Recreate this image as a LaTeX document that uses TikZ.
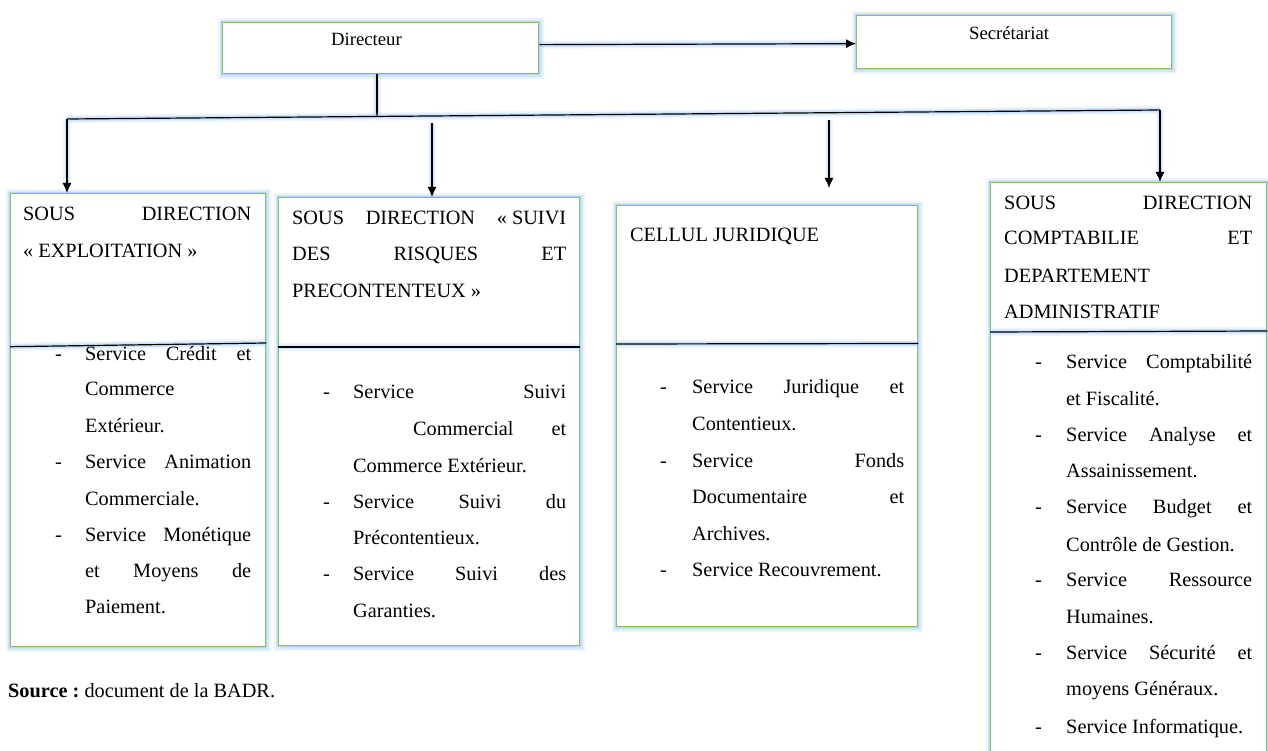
\documentclass[tikz,border=0pt]{standalone}
\usepackage{fontspec}
\setmainfont{Liberation Serif}
\usetikzlibrary{arrows.meta}
\definecolor{boxgreen}{RGB}{140,192,92}
\definecolor{glowblue}{RGB}{150,198,248}
% a line of text stretched to a given width (justified)
\newcommand\jus[2]{\makebox[#1][s]{#2}}
\frenchspacing

\begin{document}
\begin{tikzpicture}[x=1pt,y=-1pt,
  orgbox/.style={draw=boxgreen, line width=1.3pt, fill=white, inner sep=0pt,
    anchor=north west,
    preaction={draw=glowblue, line width=10pt, opacity=0.18},
    preaction={draw=glowblue, line width=6pt, opacity=0.3},
    preaction={draw=glowblue, line width=3.5pt, opacity=0.45}},
  txt/.style={inner sep=0pt, anchor=base west, font=\fontsize{20.3pt}{24pt}\selectfont},
  small/.style={inner sep=0pt, anchor=base west, font=\fontsize{18.7pt}{22pt}\selectfont},
  conn/.style={draw=black, line width=1.2pt,
    preaction={draw=glowblue, line width=8pt, opacity=0.18},
    preaction={draw=glowblue, line width=4.5pt, opacity=0.35}},
  arr/.style={conn, -{Latex[length=10pt,width=9pt]}},
]
\useasboundingbox (0,0) rectangle (1268,751);
\clip (0,0) rectangle (1268,751);
\fill[white] (0,0) rectangle (1268,751);

% boxes
\node[orgbox, minimum width=316pt, minimum height=51pt]  (dir) at (222,22) {};
\node[orgbox, minimum width=315pt, minimum height=53pt]  (sec) at (856,15) {};
\node[orgbox, minimum width=255pt, minimum height=453pt] (b1)  at (10,193) {};
\node[orgbox, minimum width=301pt, minimum height=448pt] (b2)  at (278,197) {};
\node[orgbox, minimum width=301pt, minimum height=421pt] (b3)  at (616,205) {};
\node[orgbox, minimum width=276pt, minimum height=620pt] (b4)  at (990,182) {};

% dividers between heading and services
\draw[conn] ([yshift=-153.7pt]b1.north west) -- ([yshift=-150pt]b1.north east);
\draw[conn] ([yshift=-150pt]b2.north west) -- ([yshift=-150pt]b2.north east);
\draw[conn] ([yshift=-139pt]b3.north west) -- ([yshift=-138.5pt]b3.north east);
\draw[conn] ([yshift=-150pt]b4.north west) -- ([yshift=-149pt]b4.north east);

% connectors
\coordinate (busL) at (67,119);
\coordinate (busR) at (1160,110);
\coordinate (busJ) at (377,116.4);
\coordinate (t2) at (432,123);
\coordinate (t3) at (829,120);
\coordinate (e3) at (829,188);
\draw[conn] (dir.south -| busJ) -- (busJ);
\draw[conn] (busL) -- (busR);
\draw[arr] (busL) -- (busL |- b1.north);
\draw[arr] (t2) -- (t2 |- b2.north);
\draw[arr] (t3) -- (e3);
\draw[arr] (busR) -- (busR |- b4.north);
\draw[arr] ([yshift=3.5pt]dir.east) -- ([yshift=-1.5pt]sec.west);

% top labels
\node[small] (dirT) at (331,46) {Directeur};
\node[small] (secT) at (969,40) {Secrétariat};

% box 1
\node[txt] (b1h1) at (23,221) {\jus{228pt}{SOUS DIRECTION}};
\node[txt] (b1h2) at (23,258) {« EXPLOITATION »};
\node[txt] (b1d1) at (55,360) {-};
\node[txt] (b1l1) at (85,360) {\jus{166pt}{Service Crédit et}};
\node[txt] (b1l2) at (85,395) {Commerce};
\node[txt] (b1l3) at (85,432) {Extérieur.};
\node[txt] (b1d2) at (55,468) {-};
\node[txt] (b1l4) at (85,468) {\jus{166pt}{Service Animation}};
\node[txt] (b1l5) at (85,505) {Commerciale.};
\node[txt] (b1d3) at (55,541) {-};
\node[txt] (b1l6) at (85,541) {\jus{166pt}{Service Monétique}};
\node[txt] (b1l7) at (85,577) {\jus{166pt}{et Moyens de}};
\node[txt] (b1l8) at (85,613) {Paiement.};

% box 2
\node[txt] (b2h1) at (292,225) {\jus{274pt}{SOUS DIRECTION \mbox{« SUIVI}}};
\node[txt] (b2h2) at (292,261) {\jus{274pt}{DES RISQUES ET}};
\node[txt] (b2h3) at (292,297) {PRECONTENTEUX »};
\node[txt] (b2d1) at (323,398) {-};
\node[txt] (b2l1) at (353,398) {\jus{213pt}{Service Suivi}};
\node[txt] (b2l2) at (413,435) {\jus{153pt}{Commercial et}};
\node[txt] (b2l3) at (353,472) {Commerce Extérieur.};
\node[txt] (b2d2) at (323,508) {-};
\node[txt] (b2l4) at (353,508) {\jus{213pt}{Service Suivi du}};
\node[txt] (b2l5) at (353,544) {Précontentieux.};
\node[txt] (b2d3) at (323,580) {-};
\node[txt] (b2l6) at (353,580) {\jus{213pt}{Service Suivi des}};
\node[txt] (b2l7) at (353,617) {Garanties.};

% box 3
\node[txt] (b3h1) at (630,242) {CELLUL JURIDIQUE};
\node[txt] (b3d1) at (660,393) {-};
\node[txt] (b3l1) at (692,393) {\jus{212pt}{Service Juridique et}};
\node[txt] (b3l2) at (692,430) {Contentieux.};
\node[txt] (b3d2) at (660,467) {-};
\node[txt] (b3l3) at (692,467) {\jus{212pt}{Service Fonds}};
\node[txt] (b3l4) at (692,503) {\jus{212pt}{Documentaire et}};
\node[txt] (b3l5) at (692,540) {Archives.};
\node[txt] (b3d3) at (660,576) {-};
\node[txt] (b3l6) at (692,576) {Service Recouvrement.};

% box 4
\node[txt] (b4h1) at (1004,210) {\jus{248pt}{SOUS DIRECTION}};
\node[txt] (b4h2) at (1004,245) {\jus{248pt}{COMPTABILIE ET}};
\node[txt] (b4h3) at (1004,282) {DEPARTEMENT};
\node[txt] (b4h4) at (1004,318) {ADMINISTRATIF};
\node[txt] (b4d1) at (1035,368) {-};
\node[txt] (b4l1) at (1066,368) {\jus{186pt}{Service Comptabilité}};
\node[txt] (b4l2) at (1066,405) {et Fiscalité.};
\node[txt] (b4d2) at (1035,441) {-};
\node[txt] (b4l3) at (1066,441) {\jus{186pt}{Service Analyse et}};
\node[txt] (b4l4) at (1066,477) {Assainissement.};
\node[txt] (b4d3) at (1035,513) {-};
\node[txt] (b4l5) at (1066,513) {\jus{186pt}{Service Budget et}};
\node[txt] (b4l6) at (1066,551) {Contrôle de Gestion.};
\node[txt] (b4d4) at (1035,586) {-};
\node[txt] (b4l7) at (1066,586) {\jus{186pt}{Service Ressource}};
\node[txt] (b4l8) at (1066,623) {Humaines.};
\node[txt] (b4d5) at (1035,659) {-};
\node[txt] (b4l9) at (1066,659) {\jus{186pt}{Service Sécurité et}};
\node[txt] (b4l10) at (1066,695) {moyens Généraux.};
\node[txt] (b4d6) at (1035,733) {-};
\node[txt] (b4l11) at (1066,733) {Service Informatique.};

% source note
\node[txt] (src) at (8,697) {\textbf{Source :} document de la BADR.};
\end{tikzpicture}
\end{document}
